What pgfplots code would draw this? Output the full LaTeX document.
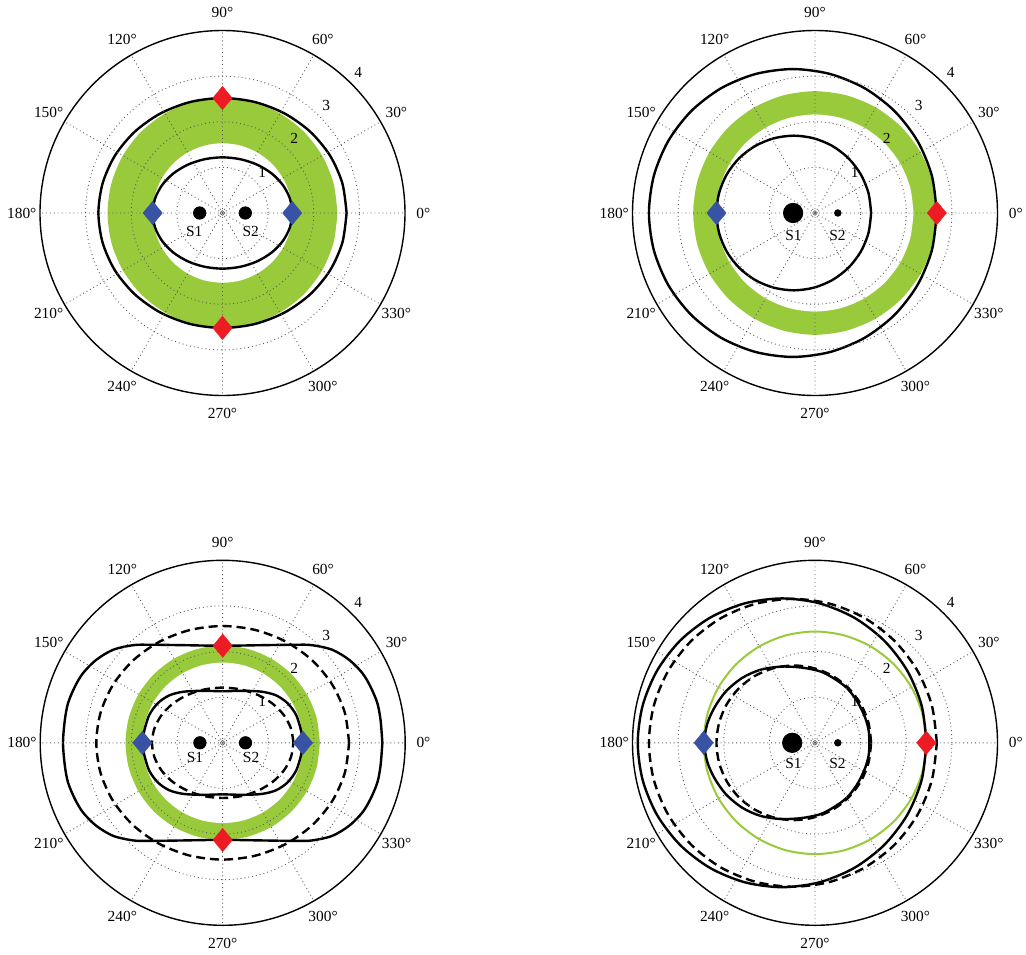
\documentclass[border=0pt]{standalone}
\usepackage{fontspec}
\setmainfont{Liberation Serif}
\usepackage{pgfplots}
\usepackage{pgfplotstable}
\pgfplotsset{compat=1.18}
\usepgfplotslibrary{polar}

\definecolor{ringgreen}{RGB}{153,202,60}
\definecolor{mred}{RGB}{237,28,36}
\definecolor{mblue}{RGB}{57,83,164}

% radii of the centred rings (angle in degrees)
\pgfplotstableread{
a   p1o  p1i  p2o  p2i  p3o  p3i  p4g
0   2.52 1.53 2.67 2.16 2.13 1.76 2.44
15  2.52 1.53 2.67 2.16 2.13 1.76 2.44
30  2.52 1.53 2.67 2.16 2.13 1.76 2.44
45  2.52 1.53 2.67 2.16 2.13 1.76 2.44
60  2.52 1.53 2.67 2.16 2.13 1.76 2.44
75  2.52 1.53 2.67 2.16 2.13 1.76 2.44
90  2.52 1.53 2.67 2.16 2.13 1.76 2.44
105 2.52 1.53 2.67 2.16 2.13 1.76 2.44
120 2.52 1.53 2.67 2.16 2.13 1.76 2.44
135 2.52 1.53 2.67 2.16 2.13 1.76 2.44
150 2.52 1.53 2.67 2.16 2.13 1.76 2.44
165 2.52 1.53 2.67 2.16 2.13 1.76 2.44
180 2.52 1.53 2.67 2.16 2.13 1.76 2.44
195 2.52 1.53 2.67 2.16 2.13 1.76 2.44
210 2.52 1.53 2.67 2.16 2.13 1.76 2.44
225 2.52 1.53 2.67 2.16 2.13 1.76 2.44
240 2.52 1.53 2.67 2.16 2.13 1.76 2.44
255 2.52 1.53 2.67 2.16 2.13 1.76 2.44
270 2.52 1.53 2.67 2.16 2.13 1.76 2.44
285 2.52 1.53 2.67 2.16 2.13 1.76 2.44
300 2.52 1.53 2.67 2.16 2.13 1.76 2.44
315 2.52 1.53 2.67 2.16 2.13 1.76 2.44
330 2.52 1.53 2.67 2.16 2.13 1.76 2.44
345 2.52 1.53 2.67 2.16 2.13 1.76 2.44
360 2.52 1.53 2.67 2.16 2.13 1.76 2.44
}\rings

\tikzset{
  lbl/.style={font=\fontsize{7.7}{9}\selectfont, text=black, inner sep=0pt},
}
\pgfplotsset{
  dial/.style={
    axis on top,
    scale only axis, width=182.5pt, height=182.5pt,
    xmin=0, xmax=360, ymin=0, ymax=4,
    xtick={0,30,...,330}, ytick={1,2,3},
    xticklabels={}, yticklabels={},
    tick style={draw=none},
    grid=major,
    major grid style={black!65, line width=0.45pt, dash pattern=on 0.45pt off 1.5pt},
    separate axis lines,
    x axis line style={black, line width=0.7pt},
    y axis line style={draw=none},
    clip=false,
  },
  curve/.style={black, line width=1.2pt, smooth, data cs=cart, mark=none},
  dcurve/.style={curve, dash pattern=on 4.5pt off 2.5pt},
  disk/.style={draw=none, smooth, mark=none},
  reddia/.style={only marks, mark=diamond*, mark size=5.85pt,
    mark options={xscale=1.1, draw=mred, fill=mred, line width=0.2pt}},
  bluedia/.style={only marks, mark=diamond*, mark size=5.85pt,
    mark options={xscale=1.1, draw=mblue, fill=mblue, line width=0.2pt}},
}
% dial decorations: angle labels, radial labels, centre ring
\newcommand\dialtext{%
  \pgfplotsinvokeforeach{0,30,60,90,120,150,180,210,240,270,300,330}{%
    \node[lbl] at (axis cs:##1,4.4) {##1°};}
  \node[lbl] at (axis cs:46,1.25) {1};
  \node[lbl] at (axis cs:46,2.26) {2};
  \node[lbl] at (axis cs:46,3.27) {3};
  \node[lbl] at (axis cs:46,4.28) {4};
  \addplot[black!60, line width=0.35pt, smooth, mark=none]
    coordinates {(0,0.05) (90,0.05) (180,0.05) (270,0.05) (360,0.05)};
}

\begin{document}
\begin{tikzpicture}
\useasboundingbox (0,0) rectangle (513pt,477pt);

% ---------- top left ----------
\begin{polaraxis}[dial, at={(20pt,279.25pt)}]
\addplot[disk, fill=ringgreen] table[x=a, y=p1o] {\rings};
\addplot[disk, fill=white] table[x=a, y=p1i] {\rings};
\dialtext
\addplot[curve] coordinates {(2.72,0) (2.627,0.652) (2.356,1.26) (1.923,1.782) (1.36,2.182) (0.704,2.434) (0,2.52) (-0.704,2.434) (-1.36,2.182) (-1.923,1.782) (-2.356,1.26) (-2.627,0.652) (-2.72,0) (-2.627,-0.652) (-2.356,-1.26) (-1.923,-1.782) (-1.36,-2.182) (-0.704,-2.434) (0,-2.52) (0.704,-2.434) (1.36,-2.182) (1.923,-1.782) (2.356,-1.26) (2.627,-0.652) (2.72,0)};
\addplot[curve] coordinates {(1.53,0) (1.478,0.316) (1.325,0.61) (1.082,0.863) (0.765,1.057) (0.396,1.178) (0,1.22) (-0.396,1.178) (-0.765,1.057) (-1.082,0.863) (-1.325,0.61) (-1.478,0.316) (-1.53,0) (-1.478,-0.316) (-1.325,-0.61) (-1.082,-0.863) (-0.765,-1.057) (-0.396,-1.178) (0,-1.22) (0.396,-1.178) (0.765,-1.057) (1.082,-0.863) (1.325,-0.61) (1.478,-0.316) (1.53,0)};
\addplot[only marks, mark=*, mark size=3.1pt, black] coordinates {(180,0.5) (0,0.5)};
\addplot[reddia] coordinates {(90,2.52) (270,2.52)};
\addplot[bluedia] coordinates {(0,1.53) (180,1.53)};
\node[lbl, xshift=-14.1pt, yshift=-9pt] at (axis cs:0,0) {S1};
\node[lbl, xshift=14.1pt, yshift=-9pt] at (axis cs:0,0) {S2};
\end{polaraxis}

% ---------- top right ----------
\begin{polaraxis}[dial, at={(316.25pt,279.25pt)}]
\addplot[disk, fill=ringgreen] table[x=a, y=p2o] {\rings};
\addplot[disk, fill=white] table[x=a, y=p2i] {\rings};
\dialtext
\addplot[curve] coordinates {(2.67,0) (2.562,0.817) (2.247,1.578) (1.746,2.231) (1.093,2.732) (0.332,3.047) (-0.485,3.155) (-1.302,3.047) (-2.063,2.732) (-2.716,2.231) (-3.217,1.578) (-3.532,0.817) (-3.64,0) (-3.532,-0.817) (-3.217,-1.578) (-2.716,-2.231) (-2.063,-2.732) (-1.302,-3.047) (-0.485,-3.155) (0.332,-3.047) (1.093,-2.732) (1.746,-2.231) (2.247,-1.578) (2.562,-0.817) (2.67,0)};
\addplot[curve] coordinates {(1.23,0) (1.172,0.439) (1.003,0.848) (0.734,1.199) (0.383,1.468) (-0.026,1.637) (-0.465,1.695) (-0.904,1.637) (-1.313,1.468) (-1.664,1.199) (-1.933,0.848) (-2.102,0.439) (-2.16,0) (-2.102,-0.439) (-1.933,-0.848) (-1.664,-1.199) (-1.313,-1.468) (-0.904,-1.637) (-0.465,-1.695) (-0.026,-1.637) (0.383,-1.468) (0.734,-1.199) (1.003,-0.848) (1.172,-0.439) (1.23,0)};
\addplot[only marks, mark=*, mark size=4.85pt, black] coordinates {(180,0.48)};
\addplot[only marks, mark=*, mark size=1.65pt, black] coordinates {(0,0.5)};
\addplot[reddia] coordinates {(0,2.67)};
\addplot[bluedia] coordinates {(180,2.16)};
\node[lbl, xshift=-10.8pt, yshift=-11pt] at (axis cs:0,0) {S1};
\node[lbl, xshift=11.2pt, yshift=-11pt] at (axis cs:0,0) {S2};
\end{polaraxis}

% ---------- bottom left ----------
\begin{polaraxis}[dial, at={(20.1pt,14.35pt)}]
\addplot[disk, fill=ringgreen] table[x=a, y=p3o] {\rings};
\addplot[disk, fill=white] table[x=a, y=p3i] {\rings};
\dialtext
\addplot[dcurve] coordinates {(2.77,0) (2.676,0.663) (2.399,1.28) (1.959,1.81) (1.385,2.217) (0.717,2.473) (0,2.56) (-0.717,2.473) (-1.385,2.217) (-1.959,1.81) (-2.399,1.28) (-2.676,0.663) (-2.77,0) (-2.676,-0.663) (-2.399,-1.28) (-1.959,-1.81) (-1.385,-2.217) (-0.717,-2.473) (0,-2.56) (0.717,-2.473) (1.385,-2.217) (1.959,-1.81) (2.399,-1.28) (2.676,-0.663) (2.77,0)};
\addplot[dcurve] coordinates {(1.55,0) (1.497,0.313) (1.342,0.605) (1.096,0.856) (0.775,1.048) (0.401,1.169) (0,1.21) (-0.401,1.169) (-0.775,1.048) (-1.096,0.856) (-1.342,0.605) (-1.497,0.313) (-1.55,0) (-1.497,-0.313) (-1.342,-0.605) (-1.096,-0.856) (-0.775,-1.048) (-0.401,-1.169) (0,-1.21) (0.401,-1.169) (0.775,-1.048) (1.096,-0.856) (1.342,-0.605) (1.497,-0.313) (1.55,0)};
\addplot[curve] coordinates {(3.50,0) (3.46,0.50) (3.39,0.87) (3.24,1.23) (3.06,1.53) (2.77,1.82) (2.40,2.04) (1.96,2.14) (1.60,2.15) (0.86,2.14) (0.28,2.13) (0,2.13) (-0.28,2.13) (-0.86,2.14) (-1.60,2.15) (-1.96,2.14) (-2.40,2.04) (-2.77,1.82) (-3.06,1.53) (-3.24,1.23) (-3.39,0.87) (-3.46,0.50) (-3.50,0) (-3.46,-0.50) (-3.39,-0.87) (-3.24,-1.23) (-3.06,-1.53) (-2.77,-1.82) (-2.40,-2.04) (-1.96,-2.14) (-1.60,-2.15) (-0.86,-2.14) (-0.28,-2.13) (0,-2.13) (0.28,-2.13) (0.86,-2.14) (1.60,-2.15) (1.96,-2.14) (2.40,-2.04) (2.77,-1.82) (3.06,-1.53) (3.24,-1.23) (3.39,-0.87) (3.46,-0.50) (3.50,0)};
\addplot[curve] coordinates {(1.76,0) (1.72,0.26) (1.61,0.61) (1.42,0.87) (1.17,1.04) (0.86,1.12) (0.45,1.14) (0,1.13) (-0.45,1.14) (-0.86,1.12) (-1.17,1.04) (-1.42,0.87) (-1.61,0.61) (-1.72,0.26) (-1.76,0) (-1.72,-0.26) (-1.61,-0.61) (-1.42,-0.87) (-1.17,-1.04) (-0.86,-1.12) (-0.45,-1.14) (0,-1.13) (0.45,-1.14) (0.86,-1.12) (1.17,-1.04) (1.42,-0.87) (1.61,-0.61) (1.72,-0.26) (1.76,0)};
\addplot[only marks, mark=*, mark size=3.1pt, black] coordinates {(180,0.5) (0,0.5)};
\addplot[reddia] coordinates {(90,2.13) (270,2.13)};
\addplot[bluedia] coordinates {(0,1.76) (180,1.76)};
\node[lbl, xshift=-13.9pt, yshift=-7.5pt] at (axis cs:0,0) {S1};
\node[lbl, xshift=14.2pt, yshift=-7.5pt] at (axis cs:0,0) {S2};
\end{polaraxis}

% ---------- bottom right ----------
\begin{polaraxis}[dial, at={(316.25pt,14.35pt)}]
\dialtext
\addplot[ringgreen, line width=1pt, smooth, mark=none] table[x=a, y=p4g] {\rings};
\addplot[dcurve] coordinates {(2.67,0) (2.562,0.817) (2.247,1.578) (1.746,2.231) (1.093,2.732) (0.332,3.047) (-0.485,3.155) (-1.302,3.047) (-2.063,2.732) (-2.716,2.231) (-3.217,1.578) (-3.532,0.817) (-3.64,0) (-3.532,-0.817) (-3.217,-1.578) (-2.716,-2.231) (-2.063,-2.732) (-1.302,-3.047) (-0.485,-3.155) (0.332,-3.047) (1.093,-2.732) (1.746,-2.231) (2.247,-1.578) (2.562,-0.817) (2.67,0)};
\addplot[dcurve] coordinates {(1.23,0) (1.172,0.439) (1.003,0.848) (0.734,1.199) (0.383,1.468) (-0.026,1.637) (-0.465,1.695) (-0.904,1.637) (-1.313,1.468) (-1.664,1.199) (-1.933,0.848) (-2.102,0.439) (-2.16,0) (-2.102,-0.439) (-1.933,-0.848) (-1.664,-1.199) (-1.313,-1.468) (-0.904,-1.637) (-0.465,-1.695) (-0.026,-1.637) (0.383,-1.468) (0.734,-1.199) (1.003,-0.848) (1.172,-0.439) (1.23,0)};
\addplot[curve] coordinates {(2.445,0) (2.337,0.819) (2.021,1.583) (1.518,2.238) (0.863,2.741) (0.099,3.057) (-0.72,3.165) (-1.539,3.057) (-2.303,2.741) (-2.958,2.238) (-3.461,1.583) (-3.777,0.819) (-3.885,0) (-3.777,-0.819) (-3.461,-1.583) (-2.958,-2.238) (-2.303,-2.741) (-1.539,-3.057) (-0.72,-3.165) (0.099,-3.057) (0.863,-2.741) (1.518,-2.238) (2.021,-1.583) (2.337,-0.819) (2.445,0)};
\addplot[curve] coordinates {(1.19,0) (1.18,0.25) (1.10,0.55) (0.93,0.90) (0.70,1.20) (0.40,1.42) (0.10,1.57) (-0.30,1.65) (-0.75,1.67) (-1.20,1.60) (-1.60,1.42) (-1.95,1.13) (-2.20,0.78) (-2.36,0.42) (-2.43,0) (-2.36,-0.42) (-2.20,-0.78) (-1.95,-1.13) (-1.60,-1.42) (-1.20,-1.60) (-0.75,-1.67) (-0.30,-1.65) (0.10,-1.57) (0.40,-1.42) (0.70,-1.20) (0.93,-0.90) (1.10,-0.55) (1.18,-0.25) (1.19,0)};
\addplot[only marks, mark=*, mark size=4.85pt, black] coordinates {(180,0.5)};
\addplot[only marks, mark=*, mark size=1.65pt, black] coordinates {(0,0.5)};
\addplot[reddia] coordinates {(0,2.44)};
\addplot[bluedia] coordinates {(180,2.44)};
\node[lbl, xshift=-10.8pt, yshift=-10.2pt] at (axis cs:0,0) {S1};
\node[lbl, xshift=11.2pt, yshift=-10.2pt] at (axis cs:0,0) {S2};
\end{polaraxis}
\end{tikzpicture}
\end{document}
